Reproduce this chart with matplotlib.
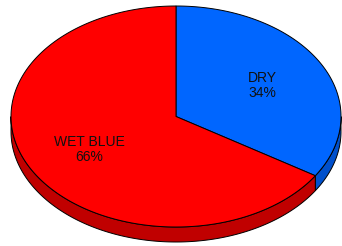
import numpy as np
import matplotlib.pyplot as plt
from matplotlib.patches import Polygon

labels = ["DRY", "WET BLUE"]
values = [34, 66]
top_colors = ["#0066FF", "#FF0000"]
side_colors = ["#0050CC", "#C00000"]

# pie geometry in pixels
cx, cy = 176, 116.5
rx, ry = 165, 110.5
depth = 15


def edge(t, dy=0):
    return np.column_stack([cx + rx * np.cos(t), cy - ry * np.sin(t) + dy])


fig = plt.figure(figsize=(3.42, 2.46), dpi=100)
ax = fig.add_axes([0, 0, 1, 1])
ax.set_xlim(0, 342)
ax.set_ylim(246, 0)
ax.axis("off")

fracs = np.array(values) / sum(values)
start = np.pi / 2
spans = []
for f in fracs:
    end = start - f * 2 * np.pi
    spans.append((end, start))
    start = end

# sides (front half only, angles between pi and 2pi)
for (a, b), sc in zip(spans, side_colors):
    lo, hi = a % (2 * np.pi), a % (2 * np.pi) + (b - a)
    for shift in (0, 2 * np.pi, -2 * np.pi):
        l = max(lo + shift, np.pi)
        h = min(hi + shift, 2 * np.pi)
        if h > l:
            t = np.linspace(l, h, 200)
            pts = np.vstack([edge(t), edge(t[::-1], depth)])
            ax.add_patch(Polygon(pts, closed=True, fc=sc, ec="black", lw=0.7))

# top wedges
for (a, b), tc in zip(spans, top_colors):
    t = np.linspace(a, b, 300)
    pts = np.vstack([[cx, cy], edge(t)])
    ax.add_patch(Polygon(pts, closed=True, fc=tc, ec="black", lw=0.7))

# labels
for (a, b), lab, v in zip(spans, labels, values):
    m = (a + b) / 2
    x = cx + 0.6 * rx * np.cos(m)
    y = cy - 0.6 * ry * np.sin(m)
    ax.text(x, y + 1, f"{lab}\n{v}%", ha="center", va="center", fontsize=10,
            family="Liberation Sans", color="#111111", linespacing=1.05)

plt.savefig("out.png", dpi=100)
